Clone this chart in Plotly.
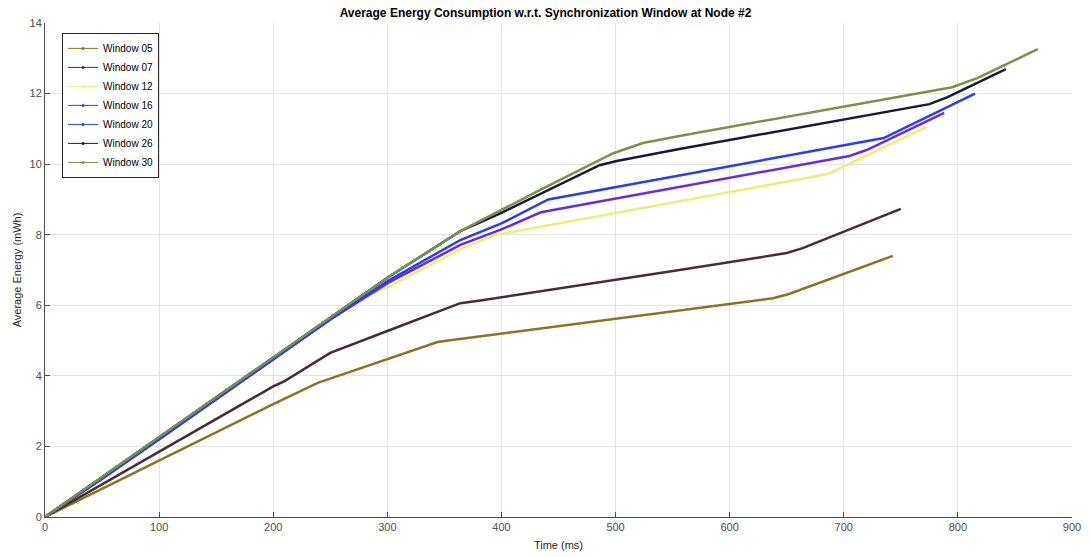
import plotly.graph_objects as go

names = ["Window 05", "Window 07", "Window 12", "Window 16", "Window 20", "Window 26", "Window 30"]
colors = ["#8C7321", "#4A2A3A", "#E8F07A", "#6A2CD8", "#2B3CF5", "#151A3A", "#789150"]

w05_x = [0, 100, 200, 239, 260, 300, 344, 360, 425, 556, 638, 652, 743]
w05_y = [0, 1.6, 3.2, 3.8, 4.03, 4.47, 4.96, 5.03, 5.3, 5.86, 6.2, 6.32, 7.4]

w07_x = [0, 100, 200, 210, 250, 300, 364, 380, 425, 556, 650, 664, 750]
w07_y = [0, 1.85, 3.7, 3.85, 4.65, 5.27, 6.06, 6.13, 6.35, 7.0, 7.48, 7.62, 8.73]

w12_x = [0, 50, 100, 200, 276, 301, 364, 394, 400, 686, 772]
w12_y = [0, 1.13, 2.24, 4.5, 6.22, 6.52, 7.59, 7.99, 8.02, 9.72, 11.05]

w16_x = [0, 100, 200, 250, 301, 364, 400, 425, 434, 450, 705, 720, 788]
w16_y = [0, 2.22, 4.47, 5.6, 6.64, 7.71, 8.15, 8.5, 8.63, 8.73, 10.23, 10.4, 11.45]

w20_x = [0, 50, 100, 200, 250, 301, 364, 400, 441, 735, 815]
w20_y = [0, 1.08, 2.2, 4.45, 5.6, 6.7, 7.85, 8.32, 9.0, 10.74, 12.0]

w26_x = [0, 50, 100, 150, 200, 250, 300, 364, 400, 486, 501, 556, 760, 775, 791, 842]
w26_y = [0, 1.13, 2.25, 3.38, 4.52, 5.65, 6.78, 8.1, 8.62, 9.97, 10.09, 10.43, 11.6, 11.7, 11.9, 12.69]

w30_x = [0, 50, 100, 150, 200, 250, 300, 364, 434, 498, 524, 556, 795, 817, 870]
w30_y = [0, 1.13, 2.25, 3.38, 4.52, 5.65, 6.78, 8.1, 9.27, 10.31, 10.6, 10.8, 12.18, 12.44, 13.26]

xs = [w05_x, w07_x, w12_x, w16_x, w20_x, w26_x, w30_x]
ys = [w05_y, w07_y, w12_y, w16_y, w20_y, w26_y, w30_y]

x_ticks = list(range(0, 901, 100))
y_ticks = list(range(0, 15, 2))

fig = go.Figure()
for n, c, x, y in zip(names, colors, xs, ys):
    fig.add_trace(go.Scatter(x=x, y=y, mode="lines", line=dict(color=c, width=2.5),
                             showlegend=False, name=n))
for n, c in zip(names, colors):
    fig.add_trace(go.Scatter(x=[None], y=[None], mode="lines+markers", name=n,
                             line=dict(color=c, width=1), marker=dict(color=c, size=3)))

axis_common = dict(showgrid=True, gridcolor="#E3E3E3", gridwidth=1, zeroline=False,
                   showline=True, linecolor="#4D4D4D", linewidth=1, ticks="inside",
                   ticklen=5, tickcolor="#4D4D4D", automargin=False,
                   tickfont=dict(family="Liberation Sans, Arial", size=11, color="#4D4D4D"))

fig.update_layout(
    width=1091, height=557,
    margin=dict(l=45, r=19, t=23, b=40),
    paper_bgcolor="white", plot_bgcolor="white",
    title=dict(text="<b>Average Energy Consumption w.r.t. Synchronization Window at Node #2</b>",
               x=0.5, xanchor="center", y=0.977, yanchor="middle",
               font=dict(family="Liberation Sans, Arial", size=12, color="#000000")),
    xaxis=dict(range=[0, 900], tickvals=x_ticks, title=dict(text="Time (ms)", standoff=9,
               font=dict(family="Liberation Sans, Arial", size=11, color="#262626")), **axis_common),
    yaxis=dict(range=[0, 14], tickvals=y_ticks, title=dict(text="Average Energy (mWh)", standoff=5,
               font=dict(family="Liberation Sans, Arial", size=11, color="#262626")), **axis_common),
    legend=dict(x=0.0166, y=0.98, xanchor="left", yanchor="top",
                bgcolor="white", bordercolor="#262626", borderwidth=1,
                font=dict(family="Liberation Sans, Arial", size=10, color="#000000"),
                itemwidth=30, tracegroupgap=0),
)

fig.write_html("out.html", config={"displayModeBar": False},
               post_script="document.body.style.margin='0';document.body.style.overflow='hidden';")
